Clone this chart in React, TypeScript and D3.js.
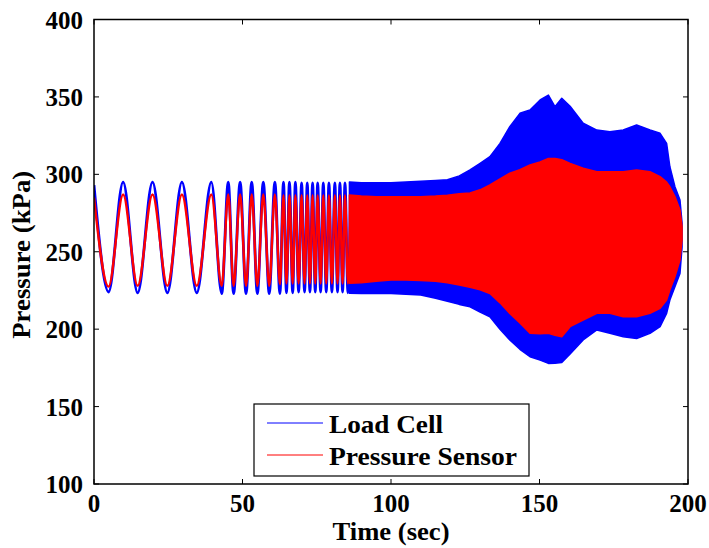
import React from "react";
import * as d3 from "d3";

// ---- Data ----
// Visible oscillation extrema (t in sec), before the signal becomes dense
const extremaTimes = [0, 4.9, 9.8, 14.7, 19.7, 24.7, 29.6, 34.6, 39.5, 43.0, 45.2, 47.0, 49.2, 51.2, 53.1, 55.0, 57.0, 59.0, 60.9, 62.6, 63.8, 64.8, 65.8, 66.9, 67.8, 68.9, 69.9, 70.9, 71.8, 72.7, 73.6, 74.5, 75.3, 76.3, 77.2, 78.2, 79.1, 80.1, 81.1, 82.0, 82.8, 83.7, 84.5, 85.5, 86.5];
const loadCellExtrema = [293, 224, 295, 223.5, 295, 223.5, 295, 223.5, 295, 223, 295, 223, 295, 223, 295, 223, 295, 223, 295, 223, 295, 223.5, 295, 223.5, 295, 224, 294.5, 224, 294.5, 224, 294.5, 224, 294.5, 224, 294.5, 224, 294.5, 224, 294.5, 224, 294.5, 224, 294.5, 223.5, 295];
const pressureExtrema = [285, 227.5, 287, 228, 287, 228, 287, 228, 287, 228, 287, 228, 287, 228, 287, 228, 287, 228, 287, 229, 286.5, 229.5, 286.5, 229.5, 286.5, 229.5, 286.5, 229.5, 286.5, 229.5, 286.5, 229.5, 286.5, 229.5, 286.5, 229.5, 286.5, 229.5, 286.5, 229.5, 286.5, 229.5, 286.5, 229.5, 286.6];

// Dense region envelopes (t in sec, values in kPa)
const envTimes = [86, 90, 95, 100, 105, 110, 115, 119, 123, 126.6, 130, 133.3, 136.7, 140, 143.4, 146.8, 150.2, 153, 155.2, 157.5, 160.3, 164.7, 169.3, 173.7, 178.2, 182.7, 187.2, 190.6, 192.8, 193.9, 195.6, 197.3, 198];
const loadCellUpper = [295, 294.5, 294.5, 294.5, 295, 295.5, 296, 296.5, 299, 302.8, 307.1, 311.4, 320, 330.8, 339.4, 341.5, 348, 351.2, 343.7, 349.1, 344, 333, 328.6, 327.5, 328.6, 331.9, 328.6, 326.5, 320, 304.9, 292, 283.4, 268.6];
const loadCellLower = [223.2, 223, 223, 223, 222.5, 222, 220, 218, 216, 214.5, 211, 208, 200, 193, 187, 182.2, 180, 177.9, 178, 178.5, 184, 193, 199.5, 197.3, 195.1, 194, 197.3, 201.6, 210.2, 218.8, 227.4, 236, 253];
const pressureUpper = [286.6, 286, 285.6, 285.6, 285.6, 285.6, 286, 286.5, 287.5, 288, 290, 293.1, 297, 300.7, 303, 306, 308, 310.3, 310.3, 309.5, 307.1, 303.9, 301.7, 301.7, 301.7, 302.8, 301.7, 298.5, 295, 292, 285.6, 277, 266.2];
const pressureLower = [229.6, 230, 231, 231.8, 231.8, 231.5, 231, 230, 228.5, 227, 225.5, 223, 217, 210.2, 204, 197.3, 197, 197.3, 196, 195.1, 201.6, 205.9, 210.2, 210.2, 208, 208, 210.2, 213.5, 218.8, 225.3, 233.9, 244.7, 257.6];

const xTicks = [0, 50, 100, 150, 200];
const yTicks = [100, 150, 200, 250, 300, 350, 400];
const seriesNames = ["Load Cell", "Pressure Sensor"];

const W = 709;
const H = 548;
const M = { left: 94, right: 688, top: 19.5, bottom: 484 };
const FONT = "'Liberation Serif', 'Times New Roman', serif";
const BLUE = "#0000ff";
const RED = "#ff0000";

export default function App() {
  const x = d3.scaleLinear().domain([0, 200]).range([M.left, M.right]);
  const y = d3.scaleLinear().domain([100, 400]).range([M.bottom, M.top]);

  const line = d3
    .line<[number, number]>()
    .x((d) => x(d[0]))
    .y((d) => y(d[1]))
    .curve(d3.curveMonotoneX);

  const area = d3
    .area<[number, number, number]>()
    .x((d) => x(d[0]))
    .y0((d) => y(d[1]))
    .y1((d) => y(d[2]))
    .curve(d3.curveLinear);

  const blueLine = line(extremaTimes.map((t, i) => [t, loadCellExtrema[i]] as [number, number])) || "";
  const redLine = line(extremaTimes.map((t, i) => [t, pressureExtrema[i]] as [number, number])) || "";
  const blueArea = area(envTimes.map((t, i) => [t, loadCellLower[i], loadCellUpper[i]] as [number, number, number])) || "";
  const redArea = area(envTimes.map((t, i) => [t, pressureLower[i], pressureUpper[i]] as [number, number, number])) || "";

  const tickLen = 5;

  return (
    <svg
      width={W}
      height={H}
      viewBox={`0 0 ${W} ${H}`}
      style={{ position: "absolute", left: 0, top: 0, display: "block", background: "#fff" }}
    >
      <rect x={0} y={0} width={W} height={H} fill="#fff" />
      <defs>
        <clipPath id="plotClip">
          <rect x={M.left} y={M.top} width={M.right - M.left} height={M.bottom - M.top} />
        </clipPath>
      </defs>

      <g clipPath="url(#plotClip)">
        <path d={blueArea} fill={BLUE} stroke={BLUE} strokeWidth={1.5} strokeLinejoin="round" />
        <path d={blueLine} fill="none" stroke={BLUE} strokeWidth={2.8} strokeLinejoin="round" />
        <path d={redArea} fill={RED} stroke={RED} strokeWidth={1.5} strokeLinejoin="round" />
        <path d={redLine} fill="none" stroke={RED} strokeWidth={2.4} strokeLinejoin="round" />
      </g>

      {/* box */}
      <rect
        x={M.left}
        y={M.top}
        width={M.right - M.left}
        height={M.bottom - M.top}
        fill="none"
        stroke="#000"
        strokeWidth={1.5}
      />

      {/* x ticks */}
      {xTicks.map((t) => (
        <g key={"x" + t}>
          <line x1={x(t)} x2={x(t)} y1={M.bottom} y2={M.bottom - tickLen} stroke="#000" strokeWidth={1} />
          <line x1={x(t)} x2={x(t)} y1={M.top} y2={M.top + tickLen} stroke="#000" strokeWidth={1} />
          <text
            x={x(t)}
            y={M.bottom + 28}
            textAnchor="middle"
            fontFamily={FONT}
            fontWeight="bold"
            fontSize={25}
            fill="#000"
          >
            {t}
          </text>
        </g>
      ))}

      {/* y ticks */}
      {yTicks.map((v) => (
        <g key={"y" + v}>
          <line x1={M.left} x2={M.left + tickLen} y1={y(v)} y2={y(v)} stroke="#000" strokeWidth={1} />
          <line x1={M.right} x2={M.right - tickLen} y1={y(v)} y2={y(v)} stroke="#000" strokeWidth={1} />
          <text
            x={M.left - 11}
            y={y(v) + 9}
            textAnchor="end"
            fontFamily={FONT}
            fontWeight="bold"
            fontSize={25}
            fill="#000"
          >
            {v}
          </text>
        </g>
      ))}

      {/* axis labels */}
      <text
        x={(M.left + M.right) / 2}
        y={540}
        textAnchor="middle"
        fontFamily={FONT}
        fontWeight="bold"
        fontSize={25}
        textLength={117}
        lengthAdjust="spacingAndGlyphs"
        fill="#000"
      >
        Time (sec)
      </text>
      <text
        transform={`translate(30, ${(M.top + M.bottom) / 2 + 3}) rotate(-90)`}
        textAnchor="middle"
        fontFamily={FONT}
        fontWeight="bold"
        fontSize={25}
        textLength={168}
        lengthAdjust="spacingAndGlyphs"
        fill="#000"
      >
        Pressure (kPa)
      </text>

      {/* legend */}
      <g>
        <rect x={254} y={404} width={275} height={72} fill="#fff" stroke="#000" strokeWidth={1.2} />
        <line x1={267} x2={323} y1={423} y2={423} stroke={BLUE} strokeWidth={1} />
        <line x1={267} x2={323} y1={455} y2={455} stroke={RED} strokeWidth={1} />
        <text
          x={329}
          y={433}
          fontFamily={FONT}
          fontWeight="bold"
          fontSize={25}
          textLength={114}
          lengthAdjust="spacingAndGlyphs"
          fill="#000"
        >
          {seriesNames[0]}
        </text>
        <text
          x={329}
          y={465}
          fontFamily={FONT}
          fontWeight="bold"
          fontSize={25}
          textLength={188}
          lengthAdjust="spacingAndGlyphs"
          fill="#000"
        >
          {seriesNames[1]}
        </text>
      </g>
    </svg>
  );
}
